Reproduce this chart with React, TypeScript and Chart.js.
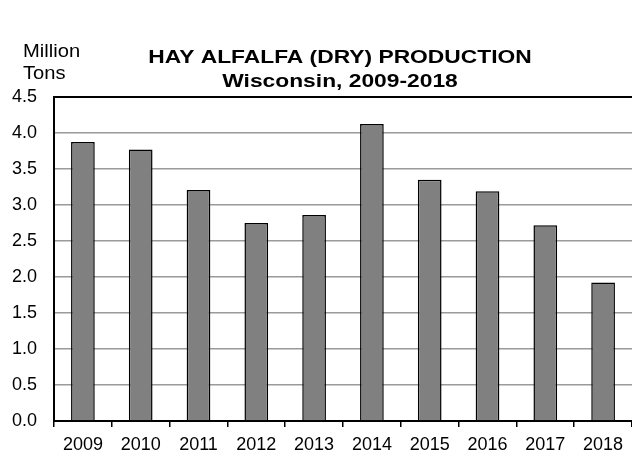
import React, { useEffect, useRef } from "react";
import { Chart, registerables } from "chart.js";

Chart.register(...registerables);

const years = ["2009", "2010", "2011", "2012", "2013", "2014", "2015", "2016", "2017", "2018"];
const production = [3.875, 3.77, 3.21, 2.75, 2.86, 4.125, 3.35, 3.19, 2.72, 1.925];
const titleLines = ["HAY ALFALFA (DRY) PRODUCTION", "Wisconsin, 2009-2018"];
const unitLines = ["Million", "Tons"];

const FONT = "'Liberation Sans', Arial, sans-serif";

function stretchedText(ctx: any, text: string, x: number, y: number, sx: number) {
  ctx.save();
  ctx.translate(x, y);
  ctx.scale(sx, 1);
  ctx.fillText(text, 0, 0);
  ctx.restore();
}

const textPlugin = {
  id: "customText",
  afterDraw(chart: any) {
    const ctx = chart.ctx;
    ctx.save();
    ctx.fillStyle = "#000";
    ctx.textBaseline = "alphabetic";
    ctx.textAlign = "center";
    ctx.font = `bold 19px ${FONT}`;
    stretchedText(ctx, titleLines[0], 340, 63, 1.2);
    stretchedText(ctx, titleLines[1], 340, 87, 1.2);
    ctx.textAlign = "left";
    ctx.font = `18px ${FONT}`;
    stretchedText(ctx, unitLines[0], 23, 57, 1.12);
    stretchedText(ctx, unitLines[1], 23, 79, 1.12);
    ctx.restore();
  },
};

export default function App() {
  const ref = useRef<HTMLCanvasElement>(null);
  useEffect(() => {
    if (!ref.current) return;
    const chart = new Chart(ref.current, {
      type: "bar",
      data: {
        labels: years,
        datasets: [
          {
            data: production,
            backgroundColor: "#808080",
            borderColor: "#000",
            borderWidth: 1.5,
            categoryPercentage: 1,
            barPercentage: 0.41,
          },
        ],
      },
      options: {
        responsive: true,
        maintainAspectRatio: false,
        animation: false,
        layout: { padding: { top: 97, right: 0, left: 0, bottom: 0 } },
        plugins: {
          legend: { display: false },
          tooltip: { enabled: false },
          title: { display: false },
        },
        scales: {
          x: {
            grid: {
              offset: true,
              drawOnChartArea: false,
              drawTicks: true,
              tickLength: 6,
              color: "#000",
              lineWidth: 1.5,
            },
            border: { color: "#000", width: 2 },
            ticks: {
              color: "#000",
              font: { family: FONT, size: 18 },
              padding: 7,
              maxRotation: 0,
              autoSkip: false,
            },
            afterFit(scale: any) {
              scale.height = 35;
            },
          },
          y: {
            min: 0,
            max: 4.5,
            grid: {
              drawTicks: false,
              color: (c: any) => (c.tick && c.tick.value === 4.5 ? "#000" : "#9a9a9a"),
              lineWidth: (c: any) => (c.tick && c.tick.value === 4.5 ? 2 : 1.5),
            },
            border: { color: "#000", width: 2 },
            ticks: {
              stepSize: 0.5,
              color: "#000",
              font: { family: FONT, size: 18 },
              padding: 17,
              callback: (v: any) => Number(v).toFixed(1),
            },
            afterFit(scale: any) {
              scale.width = 54;
            },
          },
        },
      },
      plugins: [textPlugin],
    });
    return () => chart.destroy();
  }, []);
  return (
    <div style={{ position: "fixed", left: 0, top: 0, width: 632, height: 456, background: "#fff" }}>
      <canvas ref={ref} />
    </div>
  );
}
